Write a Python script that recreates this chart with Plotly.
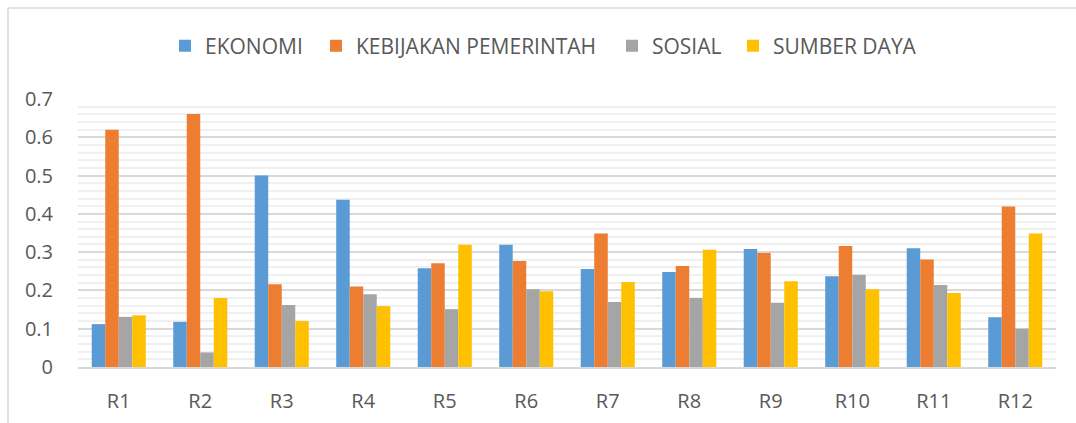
import plotly.graph_objects as go

categories = ["R1", "R2", "R3", "R4", "R5", "R6", "R7", "R8", "R9", "R10", "R11", "R12"]
ekonomi = [0.112, 0.118, 0.500, 0.437, 0.258, 0.319, 0.256, 0.248, 0.308, 0.237, 0.310, 0.130]
kebijakan = [0.620, 0.661, 0.216, 0.210, 0.271, 0.277, 0.349, 0.264, 0.298, 0.316, 0.281, 0.419]
sosial = [0.131, 0.038, 0.162, 0.190, 0.151, 0.203, 0.170, 0.180, 0.168, 0.241, 0.214, 0.100]
sumber_daya = [0.135, 0.180, 0.120, 0.159, 0.319, 0.198, 0.222, 0.306, 0.224, 0.203, 0.193, 0.349]

y_tick_values = [0, 0.1, 0.2, 0.3, 0.4, 0.5, 0.6, 0.7]
y_tick_labels = ["0", "0.1", "0.2", "0.3", "0.4", "0.5", "0.6", "0.7"]

series = [
    ("EKONOMI", ekonomi, "#5B9BD5"),
    ("KEBIJAKAN PEMERINTAH", kebijakan, "#ED7D31"),
    ("SOSIAL", sosial, "#A5A5A5"),
    ("SUMBER DAYA", sumber_daya, "#FFC000"),
]

FONT = "Open Sans"
TXT = "#595959"
W, H = 1076, 423
ml, mr, mt, mb = 78, 20, 99, 56

# left edge (px) of each legend entry's box
legend_left = [165, 316, 612, 733]
legend_names = ["legend", "legend2", "legend3", "legend4"]

fig = go.Figure()
for (name, vals, col), lg in zip(series, legend_names):
    fig.add_trace(go.Bar(x=categories, y=vals, name=name, legend=lg, showlegend=True,
                         marker=dict(color=col, line=dict(width=0))))

legend_common = dict(orientation="h", xanchor="left", xref="container",
                     y=1 - 46 / H, yanchor="middle", yref="container",
                     font=dict(family=FONT, size=21, color=TXT),
                     bgcolor="rgba(0,0,0,0)", borderwidth=0)
legend_layout = {}
for lg, lx in zip(legend_names, legend_left):
    legend_layout[lg] = dict(legend_common, x=lx / W)

fig.update_layout(
    width=W, height=H,
    showlegend=True,
    margin=dict(l=ml, r=mr, t=mt, b=mb, autoexpand=False),
    paper_bgcolor="white", plot_bgcolor="white",
    barmode="group", bargap=0.337, bargroupgap=0,
    font=dict(family=FONT, color=TXT, size=20),
    xaxis=dict(showgrid=False, showline=True, linecolor="#D9D9D9", linewidth=1.5,
               ticks="", ticklabelstandoff=15, tickfont=dict(size=20, color=TXT)),
    yaxis=dict(range=[0, 0.7], tickvals=y_tick_values, ticktext=y_tick_labels,
               showgrid=True, gridcolor="#D9D9D9", gridwidth=1.5,
               minor=dict(dtick=0.02, showgrid=True, gridcolor="#F0F0F0", gridwidth=1.5),
               zeroline=False, showline=False, ticks="",
               ticklabelstandoff=24, tickfont=dict(size=20, color=TXT)),
    shapes=[
        dict(type="line", xref="paper", yref="paper",
             x0=(8 - ml) / (W - ml - mr), x1=(W - ml) / (W - ml - mr),
             y0=(H - mb - 8) / (H - mt - mb), y1=(H - mb - 8) / (H - mt - mb),
             line=dict(color="#D9D9D9", width=1.5)),
        dict(type="line", xref="paper", yref="paper",
             x0=(8 - ml) / (W - ml - mr), x1=(8 - ml) / (W - ml - mr),
             y0=(H - mb - 8) / (H - mt - mb), y1=-(mb + 5) / (H - mt - mb),
             line=dict(color="#D9D9D9", width=1.5)),
    ],
    **legend_layout,
)

fig.write_html("out.html", config={"displayModeBar": False},
               post_script="document.body.style.margin='0';document.body.style.overflow='hidden';")
